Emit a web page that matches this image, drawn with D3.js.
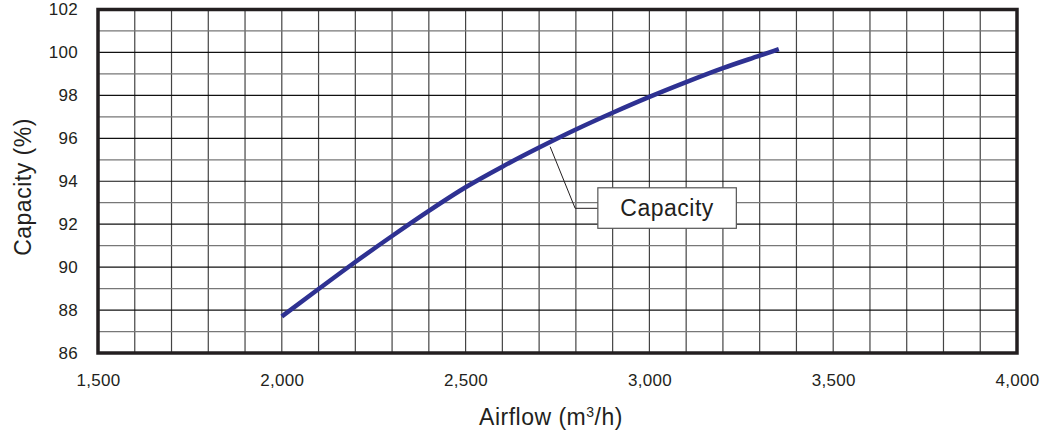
<script src="https://cdnjs.cloudflare.com/ajax/libs/d3/7.8.5/d3.min.js" charset="utf-8"></script>

<style type="text/css">
  body {
    margin: 0;
    font-family: "Liberation Sans", Arial, sans-serif;
    background: #fff;
  }
  .tick-label text {
    fill: #231f20;
    font-size: 17px;
    letter-spacing: 0.3px;
  }
  .axis-title {
    fill: #231f20;
    font-size: 23px;
    letter-spacing: 0.5px;
  }
</style>

<body></body>

<script>

// values
var airflow  = [2000, 2100, 2200, 2300, 2400, 2500, 2600, 2700, 2800, 2900, 3000, 3100, 3200, 3300, 3352];
var capacity = [87.7, 88.98, 90.24, 91.45, 92.62, 93.72, 94.68, 95.57, 96.41, 97.19, 97.93, 98.62, 99.27, 99.85, 100.15];

var xTicks = [1500, 2000, 2500, 3000, 3500, 4000];
var yTicks = [86, 88, 90, 92, 94, 96, 98, 100, 102];
var seriesName = "Capacity";

var width = 1052, height = 436;
var margin = {top: 9.5, right: 35, bottom: 83, left: 98};

var svg = d3.select("body").append("svg")
    .attr("width", width)
    .attr("height", height);

var x = d3.scaleLinear().domain([1500, 4000]).range([margin.left, width - margin.right]);
var y = d3.scaleLinear().domain([86, 102]).range([height - margin.bottom, margin.top]);

// grid
var grid = svg.append("g");
grid.selectAll(".vline")
    .data(d3.range(1600, 4000, 100))
  .enter().append("line")
    .attr("x1", function(d) { return x(d); })
    .attr("x2", function(d) { return x(d); })
    .attr("y1", y(86))
    .attr("y2", y(102))
    .attr("stroke", "#444")
    .attr("stroke-width", 1.2);

grid.selectAll(".hline")
    .data(d3.range(87, 102, 1))
  .enter().append("line")
    .attr("x1", x(1500))
    .attr("x2", x(4000))
    .attr("y1", function(d) { return y(d); })
    .attr("y2", function(d) { return y(d); })
    .attr("stroke", function(d) { return d % 2 === 0 ? "#111" : "#777"; })
    .attr("stroke-width", 1.2);

// frame
svg.append("rect")
    .attr("x", x(1500))
    .attr("y", y(102))
    .attr("width", x(4000) - x(1500))
    .attr("height", y(86) - y(102))
    .attr("fill", "none")
    .attr("stroke", "#231f20")
    .attr("stroke-width", 3.5);

// tick labels via axes
svg.append("g")
    .attr("class", "tick-label")
    .attr("transform", "translate(0," + (y(86) + 18) + ")")
    .call(d3.axisBottom(x).tickValues(xTicks).tickSize(0).tickFormat(d3.format(",")))
    .call(function(g) { g.select(".domain").remove(); })
    .selectAll("text").attr("font-family", null);

svg.append("g")
    .attr("class", "tick-label")
    .attr("transform", "translate(" + (x(1500) - 17) + ",0)")
    .call(d3.axisLeft(y).tickValues(yTicks).tickSize(0))
    .call(function(g) { g.select(".domain").remove(); })
    .selectAll("text").attr("font-family", null);

// axis titles
var xt = svg.append("text")
    .attr("class", "axis-title")
    .attr("x", 551)
    .attr("y", 425)
    .attr("text-anchor", "middle");
xt.append("tspan").text("Airflow (m");
xt.append("tspan").text("3").attr("font-size", "14px").attr("dy", -8);
xt.append("tspan").text("/h)").attr("dy", 8);

svg.append("text")
    .attr("class", "axis-title")
    .attr("transform", "translate(31,187) rotate(-90)")
    .attr("text-anchor", "middle")
    .text("Capacity (%)");

// series
var line = d3.line()
    .x(function(d, i) { return x(airflow[i]); })
    .y(function(d) { return y(d); })
    .curve(d3.curveMonotoneX);

svg.append("path")
    .datum(capacity)
    .attr("d", line)
    .attr("fill", "none")
    .attr("stroke", "#2e3192")
    .attr("stroke-width", 4.5)
    .attr("stroke-linecap", "butt");

// callout
var anchor = [2730, 95.61];
var elbow = [2798, 92.74];
var ex = x(elbow[0]), ey = y(elbow[1]);
var box = {x: ex + 22.7, y: ey - 20.5, w: 138.5, h: 40.5};

svg.append("polyline")
    .attr("points", [
      [x(anchor[0]), y(anchor[1])],
      [ex, ey],
      [box.x, ey]
    ].join(" "))
    .attr("fill", "none")
    .attr("stroke", "#231f20")
    .attr("stroke-width", 1);

svg.append("rect")
    .attr("x", box.x)
    .attr("y", box.y)
    .attr("width", box.w)
    .attr("height", box.h)
    .attr("fill", "#fff")
    .attr("stroke", "#555")
    .attr("stroke-width", 1.2);

svg.append("text")
    .attr("class", "axis-title")
    .attr("x", box.x + box.w / 2)
    .attr("y", box.y + box.h / 2 + 8)
    .attr("text-anchor", "middle")
    .text(seriesName);

</script>
